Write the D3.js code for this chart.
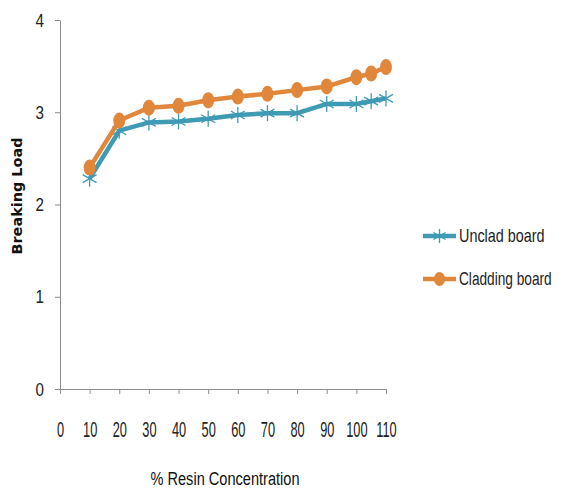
<!DOCTYPE html>
<meta charset="utf-8">
<head>
<style>
body { margin: 0; background: #fff; }
.axis path, .axis line { stroke: #8c8c8c; }
.axis text { font-family: "Liberation Sans", sans-serif; fill: #222; }
.legend text { font-family: "Liberation Sans", sans-serif; font-size: 18px; fill: #222; }
</style>
</head>
<body>
<svg width="564" height="491"></svg>
<script src="https://cdn.jsdelivr.net/npm/d3@7"></script>
<script>
var resin = [10, 20, 30, 40, 50, 60, 70, 80, 90, 100, 105, 110],
    unclad = [2.28, 2.8, 2.89, 2.9, 2.93, 2.97, 2.99, 2.99, 3.09, 3.09, 3.12, 3.15],
    cladding = [2.4, 2.91, 3.05, 3.07, 3.13, 3.17, 3.2, 3.24, 3.28, 3.38, 3.42, 3.49],
    xTicks = [0, 10, 20, 30, 40, 50, 60, 70, 80, 90, 100, 110],
    yTicks = [0, 1, 2, 3, 4];

var svg = d3.select("svg");
var x = d3.scaleLinear().domain([0, 110]).range([60, 386]);
var y = d3.scaleLinear().domain([0, 4]).range([389, 20]);

svg.append("g")
    .attr("class", "axis")
    .attr("transform", "translate(0," + y(0) + ")")
    .call(d3.axisBottom(x).tickValues(xTicks).tickSize(5).tickSizeOuter(0).tickPadding(27))
  .selectAll("text")
    .style("font-size", "22px")
    .attr("transform", "scale(0.58,1)");
svg.append("g")
    .attr("class", "axis")
    .attr("transform", "translate(" + x(0) + ",0)")
    .call(d3.axisLeft(y).tickValues(yTicks).tickFormat(d3.format("d")).tickSize(5).tickSizeOuter(0).tickPadding(15))
  .selectAll("text")
    .style("font-size", "19px")
    .attr("transform", "scale(0.8,1)");

var line = d3.line()
    .x(function(d, i) { return x(resin[i]); })
    .y(function(d) { return y(d); });

var teal = "#3f9ab4", orange = "#e0873b";

function star(g, cx, cy, r) {
  [0, 60, 120].forEach(function(a) {
    var rad = a * Math.PI / 180;
    g.append("line")
        .attr("x1", cx - r * Math.sin(rad)).attr("y1", cy - r * Math.cos(rad))
        .attr("x2", cx + r * Math.sin(rad)).attr("y2", cy + r * Math.cos(rad))
        .attr("stroke", teal).attr("stroke-width", 1.3);
  });
}

svg.append("path").datum(unclad)
    .attr("fill", "none").attr("stroke", teal).attr("stroke-width", 4.5).attr("d", line);
var ms = svg.append("g");
unclad.forEach(function(d, i) { star(ms, x(resin[i]), y(d), 8); });

svg.append("path").datum(cladding)
    .attr("fill", "none").attr("stroke", orange).attr("stroke-width", 4.5).attr("d", line);
svg.append("g").selectAll("ellipse").data(cladding).join("ellipse")
    .attr("cx", function(d, i) { return x(resin[i]); })
    .attr("cy", function(d) { return y(d); })
    .attr("rx", 6).attr("ry", 8)
    .attr("fill", orange);

// legend (narrowed with a scale so the text stays inside the frame)
var lg = svg.append("g").attr("class", "legend");
lg.append("line").attr("x1", 423).attr("x2", 456).attr("y1", 236).attr("y2", 236)
    .attr("stroke", teal).attr("stroke-width", 4.5);
star(lg, 439.5, 236, 7);
lg.append("text").attr("transform", "translate(459,242) scale(0.8,1)").text("Unclad board");
lg.append("line").attr("x1", 423).attr("x2", 456).attr("y1", 279).attr("y2", 279)
    .attr("stroke", orange).attr("stroke-width", 4.5);
lg.append("ellipse").attr("cx", 439.5).attr("cy", 279).attr("rx", 5.5).attr("ry", 7).attr("fill", orange);
lg.append("text").attr("transform", "translate(459,285) scale(0.76,1)").text("Cladding board");

svg.append("text")
    .attr("transform", "translate(22,196) rotate(-90)")
    .attr("text-anchor", "middle")
    .attr("textLength", 117).attr("lengthAdjust", "spacingAndGlyphs")
    .style("font-family", "DejaVu Sans, sans-serif")
    .style("font-size", "14px").style("font-weight", "bold").style("fill", "#111")
    .text("Breaking Load");

svg.append("text")
    .attr("x", 225).attr("y", 485)
    .attr("text-anchor", "middle")
    .attr("textLength", 149).attr("lengthAdjust", "spacingAndGlyphs")
    .style("font-family", "Liberation Sans, sans-serif")
    .style("font-size", "18px").style("fill", "#111")
    .text("% Resin Concentration");
</script>
</body>
</html>
